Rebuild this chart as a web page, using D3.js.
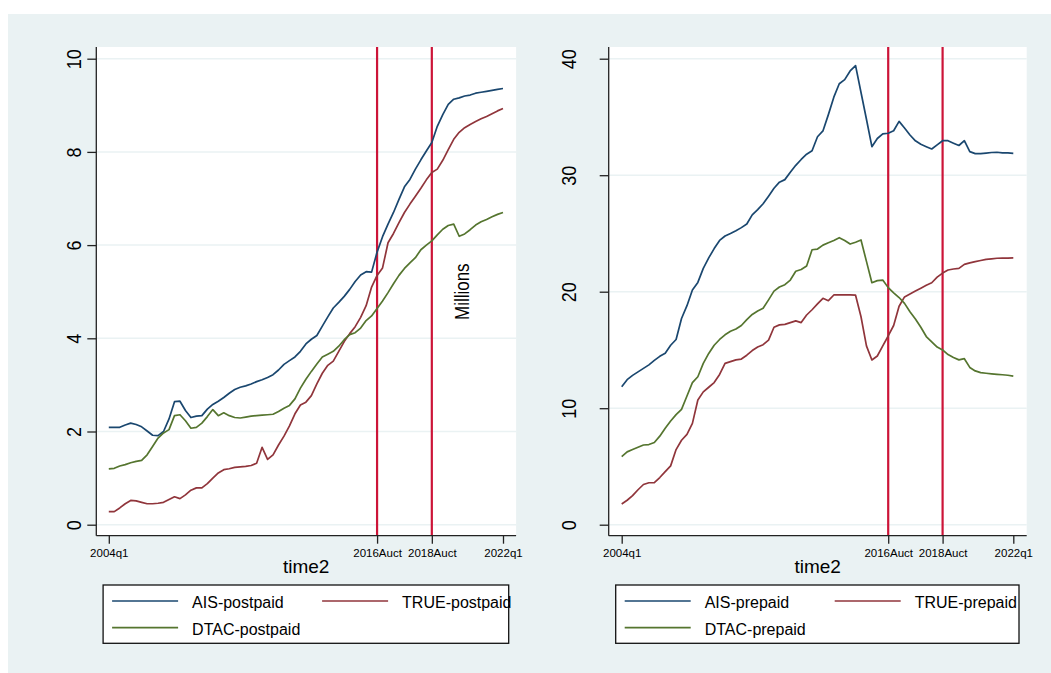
<!DOCTYPE html>
<html>
<head>
<meta charset="utf-8">
<script src="https://cdn.jsdelivr.net/npm/d3@7"></script>
<style>
body { margin: 0; background: #fff; }
svg { display: block; }
text { font-family: "Liberation Sans", Arial, sans-serif; fill: #000; }
</style>
</head>
<body>
<script>

// quarterly subscribers (millions), 2004q1 .. 2022q1
var aisPost = [2.09, 2.09, 2.09, 2.14, 2.18, 2.15, 2.10, 2.01, 1.92, 1.91,
   2.00, 2.27, 2.64, 2.65, 2.45, 2.30, 2.33, 2.34, 2.48, 2.58,
   2.65, 2.73, 2.82, 2.90, 2.95, 2.98, 3.02, 3.07, 3.11, 3.16,
   3.22, 3.32, 3.44, 3.52, 3.60, 3.72, 3.88, 3.98, 4.06, 4.26,
   4.46, 4.65, 4.77, 4.90, 5.05, 5.22, 5.36, 5.43, 5.42, 5.85,
   6.18, 6.45, 6.70, 6.98, 7.25, 7.41, 7.63, 7.83, 8.02, 8.20,
   8.55, 8.80, 9.02, 9.13, 9.16, 9.20, 9.22, 9.26, 9.28, 9.30,
   9.32, 9.34, 9.36];
var truePost = [0.28, 0.28, 0.36, 0.45, 0.52, 0.51, 0.48, 0.45, 0.45, 0.46,
   0.48, 0.54, 0.60, 0.56, 0.64, 0.74, 0.79, 0.79, 0.88, 1.00,
   1.11, 1.18, 1.20, 1.23, 1.24, 1.25, 1.27, 1.32, 1.66, 1.40,
   1.50, 1.71, 1.90, 2.12, 2.38, 2.57, 2.63, 2.77, 3.02, 3.25,
   3.42, 3.51, 3.72, 3.93, 4.10, 4.25, 4.45, 4.70, 5.10, 5.35,
   5.51, 6.05, 6.25, 6.48, 6.70, 6.88, 7.05, 7.22, 7.40, 7.56,
   7.63, 7.82, 8.05, 8.27, 8.42, 8.52, 8.59, 8.65, 8.71, 8.76,
   8.82, 8.88, 8.93];
var dtacPost = [1.20, 1.21, 1.26, 1.29, 1.33, 1.36, 1.38, 1.50, 1.68, 1.86,
   1.97, 2.04, 2.34, 2.36, 2.23, 2.07, 2.09, 2.18, 2.32, 2.47,
   2.34, 2.40, 2.34, 2.30, 2.29, 2.31, 2.33, 2.34, 2.35, 2.36,
   2.37, 2.43, 2.50, 2.56, 2.70, 2.93, 3.12, 3.29, 3.45, 3.60,
   3.66, 3.72, 3.83, 3.97, 4.08, 4.12, 4.22, 4.38, 4.48, 4.64,
   4.80, 4.98, 5.17, 5.35, 5.50, 5.62, 5.73, 5.90, 6.00, 6.09,
   6.22, 6.34, 6.42, 6.45, 6.19, 6.24, 6.33, 6.43, 6.50, 6.55,
   6.61, 6.66, 6.70];

var aisPre = [11.85, 12.45, 12.82, 13.12, 13.42, 13.72, 14.10, 14.45, 14.72, 15.40,
   15.90, 17.70, 18.80, 20.15, 20.80, 22.00, 22.90, 23.70, 24.40, 24.78,
   25.00, 25.24, 25.50, 25.81, 26.60, 27.05, 27.55, 28.20, 28.88, 29.40,
   29.62, 30.25, 30.85, 31.35, 31.80, 32.10, 33.30, 33.80, 35.20, 36.70,
   37.85, 38.20, 38.95, 39.40, 37.10, 34.80, 32.45, 33.15, 33.55, 33.60,
   33.82, 34.62, 34.05, 33.45, 32.95, 32.65, 32.45, 32.25, 32.60, 32.96,
   32.96, 32.75, 32.55, 32.96, 32.02, 31.85, 31.85, 31.90, 31.95, 31.97,
   31.92, 31.92, 31.88];
var truePre = [1.78, 2.10, 2.50, 3.00, 3.45, 3.60, 3.62, 4.05, 4.55, 5.05,
   6.45, 7.25, 7.75, 8.70, 10.70, 11.40, 11.80, 12.20, 12.90, 13.85,
   14.00, 14.15, 14.22, 14.55, 14.95, 15.25, 15.45, 15.85, 16.95, 17.15,
   17.20, 17.35, 17.50, 17.35, 18.00, 18.45, 18.95, 19.43, 19.23, 19.72,
   19.72, 19.72, 19.72, 19.70, 17.85, 15.35, 14.14, 14.48, 15.35, 16.20,
   17.10, 18.75, 19.55, 19.80, 20.05, 20.30, 20.55, 20.77, 21.25, 21.60,
   21.86, 21.95, 22.00, 22.35, 22.48, 22.58, 22.68, 22.78, 22.82, 22.87,
   22.88, 22.89, 22.90];
var dtacPre = [5.84, 6.25, 6.45, 6.65, 6.84, 6.88, 7.05, 7.60, 8.27, 8.90,
   9.45, 9.90, 11.05, 12.19, 12.70, 13.85, 14.70, 15.40, 15.90, 16.30,
   16.60, 16.80, 17.10, 17.60, 18.05, 18.35, 18.58, 19.30, 20.05, 20.40,
   20.60, 21.00, 21.75, 21.90, 22.20, 23.60, 23.66, 24.00, 24.20, 24.40,
   24.64, 24.40, 24.09, 24.25, 24.44, 22.60, 20.77, 20.95, 21.00, 20.35,
   19.90, 19.50, 19.00, 18.28, 17.65, 16.95, 16.15, 15.70, 15.25, 15.00,
   14.60, 14.35, 14.15, 14.25, 13.50, 13.20, 13.05, 13.00, 12.95, 12.91,
   12.87, 12.83, 12.76];

var tickIdx = [0, 49, 59, 72];
var tickLab = ["2004q1", "2016Auct", "2018Auct", "2022q1"];
var auctions = [49, 59];
var postTicks = [0, 2, 4, 6, 8, 10];
var preTicks = [0, 10, 20, 30, 40];
var postNames = ["AIS-postpaid", "TRUE-postpaid", "DTAC-postpaid"];
var preNames = ["AIS-prepaid", "TRUE-prepaid", "DTAC-prepaid"];

var colors = ["#1a476f", "#90353b", "#55752f"];

var svg = d3.select("body").append("svg")
   .attr("width", 1051)
   .attr("height", 673);

svg.append("rect")
   .attr("x", 8).attr("y", 14)
   .attr("width", 1043).attr("height", 659)
   .attr("fill", "#eaf2f3");

function drawPanel(p) {
   var g = svg.append("g");
   var x = d3.scaleLinear().domain([0, 72]).range([p.dx0, p.dx1]);
   var y = d3.scaleLinear().domain([0, p.ymax]).range([524.7, 58.7]);

   g.append("rect")
      .attr("x", p.left).attr("y", 47)
      .attr("width", p.right - p.left).attr("height", p.bottom - 47)
      .attr("fill", "white");

   // grid
   g.selectAll(".grid")
      .data(p.yticks)
      .enter().append("line")
      .attr("x1", p.left).attr("x2", p.right)
      .attr("y1", d => y(d)).attr("y2", d => y(d))
      .attr("stroke", "#eaf2f3")
      .attr("stroke-width", 1.5);

   // auction lines
   g.selectAll(".auct")
      .data(auctions)
      .enter().append("line")
      .attr("x1", d => x(d)).attr("x2", d => x(d))
      .attr("y1", 47).attr("y2", p.bottom)
      .attr("stroke", "#cc1438")
      .attr("stroke-width", 2.2);

   var line = d3.line()
      .x((d, i) => x(i))
      .y(d => y(d));

   p.series.forEach(function(s, k) {
      g.append("path")
         .attr("d", line(s))
         .attr("fill", "none")
         .attr("stroke", colors[k])
         .attr("stroke-width", 1.7)
         .attr("stroke-linejoin", "round");
   });

   // y axis
   var ya = g.append("g")
      .attr("transform", "translate(" + p.left + ",0)")
      .call(d3.axisLeft(y).tickValues(p.yticks).tickSize(9).tickFormat(d3.format("d")));
   ya.select(".domain").remove();
   ya.selectAll(".tick line").attr("stroke", "#222").attr("stroke-width", 1.3);
   ya.selectAll(".tick text")
      .attr("x", null).attr("dy", null)
      .attr("text-anchor", "middle")
      .attr("font-size", 18)
      .attr("font-family", null)
      .attr("fill", "#000")
      .attr("transform", "translate(" + (p.labelOff + 7.5) + ",0) rotate(-90) scale(1,1.15)");
   g.append("line")
      .attr("x1", p.left).attr("x2", p.left)
      .attr("y1", 47).attr("y2", p.bottom)
      .attr("stroke", "#222").attr("stroke-width", 1.3);

   // x axis
   var xa = g.append("g")
      .attr("transform", "translate(0," + p.bottom + ")")
      .call(d3.axisBottom(x).tickValues(tickIdx).tickSize(8).tickFormat((d, i) => tickLab[i]));
   xa.select(".domain").remove();
   xa.selectAll(".tick line").attr("stroke", "#222").attr("stroke-width", 1.3);
   xa.selectAll(".tick text")
      .attr("y", 21).attr("dy", null)
      .attr("font-size", 11.5)
      .attr("font-family", null)
      .attr("fill", "#000");
   g.append("line")
      .attr("x1", p.left).attr("x2", p.right)
      .attr("y1", p.bottom).attr("y2", p.bottom)
      .attr("stroke", "#222").attr("stroke-width", 1.3);

   g.append("text")
      .attr("x", (p.left + p.right) / 2).attr("y", 572.5)
      .attr("text-anchor", "middle")
      .attr("font-size", 19)
      .text("time2");

   // legend
   var L = p.legX0;
   g.append("rect")
      .attr("x", L).attr("y", 585)
      .attr("width", p.legX1 - L).attr("height", 58.3)
      .attr("fill", "white")
      .attr("stroke", "#111")
      .attr("stroke-width", 1.3);
   var slots = [[0, 601, 607.5], [210, 601, 607.5], [0, 627.7, 634.5]];
   p.names.forEach(function(n, k) {
      var sx = L + slots[k][0];
      g.append("line")
         .attr("x1", sx + 9).attr("x2", sx + 75)
         .attr("y1", slots[k][1]).attr("y2", slots[k][1])
         .attr("stroke", colors[k])
         .attr("stroke-width", 1.7);
      g.append("text")
         .attr("x", sx + 89).attr("y", slots[k][2])
         .attr("font-size", 16)
         .text(n);
   });

   if (p.note) {
      g.append("text")
         .attr("text-anchor", "middle")
         .attr("font-size", 17)
         .attr("transform", "translate(469,291.7) rotate(-90) scale(1,1.15)")
         .text(p.note);
   }
}

drawPanel({
   left: 96.3, right: 516.1, bottom: 535.7,
   dx0: 108.8, dx1: 503,
   ymax: 10, yticks: postTicks, labelOff: -22.7,
   series: [aisPost, truePost, dtacPost], names: postNames,
   legX0: 103.1, legX1: 508.7,
   note: "Millions"
});

drawPanel({
   left: 608.7, right: 1026.7, bottom: 535.7,
   dx0: 621.7, dx1: 1013.3,
   ymax: 40, yticks: preTicks, labelOff: -40.7,
   series: [aisPre, truePre, dtacPre], names: preNames,
   legX0: 615.7, legX1: 1019
});

</script>
</body>
</html>
